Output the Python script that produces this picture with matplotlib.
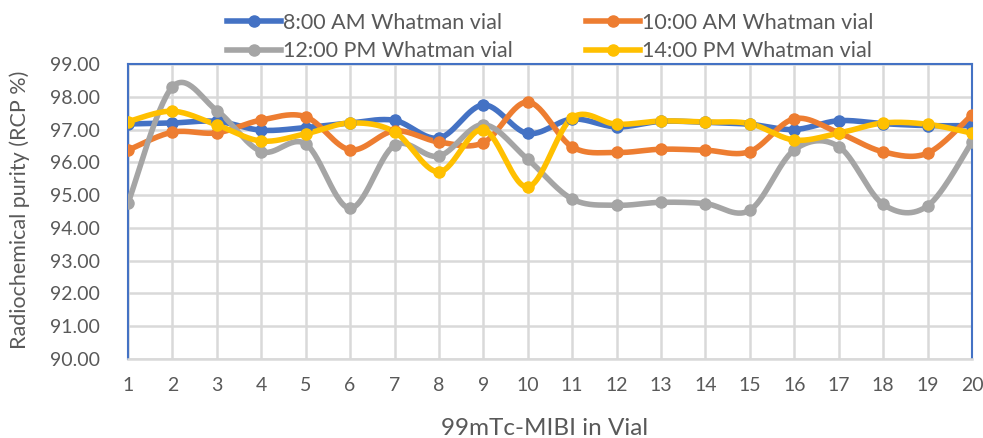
import numpy as np
import matplotlib
matplotlib.use("Agg")
import matplotlib.pyplot as plt

vials = list(range(1, 21))

am_8 = [97.17, 97.20, 97.25, 96.98, 97.06, 97.20, 97.28, 96.74, 97.75, 96.88,
        97.32, 97.08, 97.25, 97.22, 97.16, 97.00, 97.27, 97.18, 97.12, 97.12]
am_10 = [96.37, 96.92, 96.90, 97.29, 97.39, 96.38, 96.96, 96.62, 96.60, 97.84,
         96.47, 96.30, 96.40, 96.37, 96.33, 97.33, 96.90, 96.32, 96.28, 97.45]
pm_12 = [94.75, 98.30, 97.58, 96.33, 96.56, 94.60, 96.52, 96.19, 97.15, 96.09,
         94.88, 94.69, 94.78, 94.74, 94.54, 96.38, 96.48, 94.72, 94.67, 96.62]
pm_14 = [97.24, 97.56, 97.14, 96.65, 96.87, 97.20, 96.93, 95.71, 97.00, 95.25,
         97.36, 97.16, 97.26, 97.23, 97.18, 96.68, 96.89, 97.20, 97.16, 96.89]

series_names = ["8:00 AM Whatman vial", "10:00 AM Whatman vial",
                "12:00 PM Whatman vial", "14:00 PM Whatman vial"]
series_values = [am_8, am_10, pm_12, pm_14]
colors = ["#4472C4", "#ED7D31", "#A5A5A5", "#FFC000"]

y_ticks = [90, 91, 92, 93, 94, 95, 96, 97, 98, 99]


def smooth(xs, ys, n=30):
    """Bezier smoothing through every point (Excel-style 'smoothed line')."""
    xs = np.asarray(xs, float)
    ys = np.asarray(ys, float)
    px = np.concatenate([[xs[0]], xs, [xs[-1]]])
    py = np.concatenate([[ys[0]], ys, [ys[-1]]])
    out_x, out_y = [], []
    t = np.linspace(0, 1, n, endpoint=False)
    for i in range(1, len(px) - 2):
        p0 = np.array([px[i], py[i]])
        p3 = np.array([px[i + 1], py[i + 1]])
        c1 = p0 + (p3 - np.array([px[i - 1], py[i - 1]])) / 6.0
        c2 = p3 - (np.array([px[i + 2], py[i + 2]]) - p0) / 6.0
        b = ((1 - t) ** 3)[:, None] * p0 + (3 * (1 - t) ** 2 * t)[:, None] * c1 \
            + (3 * (1 - t) * t ** 2)[:, None] * c2 + (t ** 3)[:, None] * p3
        out_x.extend(b[:, 0])
        out_y.extend(b[:, 1])
    out_x.append(xs[-1])
    out_y.append(ys[-1])
    return np.array(out_x), np.array(out_y)


plt.rcParams["font.family"] = ["Lato", "DejaVu Sans"]

fig = plt.figure(figsize=(9.83, 4.38), dpi=100)
ax = fig.add_axes([0.1302, 0.1804, 0.8586, 0.6735])

handles = []
for name, vals, col in zip(series_names, series_values, colors):
    sx, sy = smooth(vials, vals)
    ax.plot(sx, sy, color=col, lw=4, solid_capstyle="round", zorder=3)
    ax.plot(vials, vals, "o", color=col, ms=8, zorder=4)
    h, = ax.plot([], [], color=col, lw=4, marker="o", ms=8, label=name)
    handles.append(h)

ax.set_xlim(1, 20)
ax.set_ylim(90, 99)
ax.set_xticks(vials)
ax.set_yticks(y_ticks)
ax.set_yticklabels([f"{v:.2f}" for v in y_ticks])
ax.grid(True, color="#D9D9D9", lw=1.8, zorder=0)
ax.set_axisbelow(True)

for side in ("left", "top", "right"):
    ax.spines[side].set_color("#4472C4")
    ax.spines[side].set_linewidth(1.5)
ax.spines["bottom"].set_color("#D9D9D9")
ax.spines["bottom"].set_linewidth(1.8)

ax.tick_params(axis="both", length=0, labelsize=14, colors="#595959")
ax.tick_params(axis="y", pad=20)
ax.tick_params(axis="x", pad=13)

ax.set_xlabel("99mTc-MIBI in Vial", fontsize=17.5, color="#595959")
ax.set_ylabel("Radiochemical purity (RCP %)", fontsize=15.5, color="#595959")
ax.xaxis.set_label_coords(0.494, -0.234)
ax.yaxis.set_label_coords(-0.128, 0.505)
ax.xaxis.label.set_va("center")
ax.yaxis.label.set_va("center")

# row-major legend order: 8 AM, 10 AM on the first row; 12 PM, 14 PM on the second
order = [0, 2, 1, 3]
fig.legend(handles=[handles[i] for i in order],
           labels=[series_names[i] for i in order],
           ncol=2, loc="upper left", bbox_to_anchor=(0.222, 0.99),
           frameon=False, fontsize=15.5, labelcolor="#595959",
           columnspacing=3.4, handlelength=2.5, handletextpad=0.1,
           labelspacing=0.38, borderaxespad=0)

fig.savefig("out.png", dpi=100)
